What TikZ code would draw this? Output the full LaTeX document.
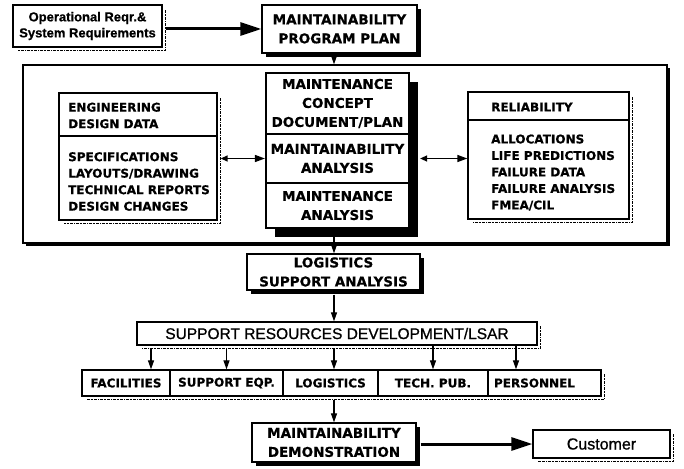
\documentclass[tikz,border=0pt]{standalone}
\usepackage{fontspec}
\setmainfont{DejaVu Sans}[BoldFeatures={FakeBold=0.6}]
\newfontfamily\libsans{Liberation Sans}[BoldFeatures={FakeBold=0.6}]
\newfontfamily\libmed{Liberation Sans}[FakeBold=0.8]
\usetikzlibrary{arrows.meta,shadows}
\begin{document}
\begin{tikzpicture}[x=1pt,y=-1pt,
  bx/.style={draw, line width=1.3pt, fill=white, inner sep=0pt, align=center,
    font=\bfseries\fontsize{13.5}{19}\selectfont},
  cbx/.style={draw, line width=2.2pt, fill=white, inner sep=0pt, align=center,
    minimum width=143pt, font=\bfseries\fontsize{13.5}{19}\selectfont},
  plain/.style={draw, line width=1.3pt, fill=white, inner sep=0pt},
  rowbox/.style={draw, line width=1.3pt, fill=white, inner sep=0pt, minimum height=26pt,
    font=\bfseries\fontsize{12}{14}\selectfont},
  solidshadow/.style={drop shadow={shadow xshift=#1, shadow yshift=-#1, fill=black, opacity=1}},
  rag/.style={line width=1.6pt, dash pattern=on 3pt off 1pt on 1.5pt off 1pt},
  arr/.style={line width=1.2pt, -{Triangle[length=9pt,width=6pt]}},
  bigarr/.style={line width=3pt, -{Triangle[length=21pt,width=13pt]}},
  darr/.style={line width=1.4pt, {Triangle[length=7pt,width=6pt]}-{Triangle[length=10pt,width=7pt]}},
  lst/.style={font=\bfseries\fontsize{12}{16.5}\selectfont, align=left, inner sep=0pt, anchor=west},
]
\useasboundingbox (0,0) rectangle (684,468);
\fill[white] (0,0) rectangle (684,468);
\coordinate (axis) at (334,0);

% top row
\node[plain, minimum width=149pt, minimum height=42pt, align=center,
  font=\libsans\bfseries\fontsize{13}{16}\selectfont] (op) at (87.5,26)
  {Operational Reqr.\&\\System Requirements};
\draw[rag] ([xshift=3pt,yshift=-6pt]op.north east) -- ([xshift=3pt,yshift=-3pt]op.south east)
  -- ([xshift=6pt,yshift=-3pt]op.south west);
\node[bx, solidshadow=4pt, minimum width=155pt, minimum height=48pt] (plan) at (339.5,29)
  {MAINTAINABILITY\\PROGRAM PLAN};
\draw[bigarr] ([xshift=3pt]op.east |- plan.west) -- (plan.west);

% big frame
\node[plain, solidshadow=3pt, minimum width=644pt, minimum height=178pt] (big) at (345,154) {};
\draw[arr] ([yshift=-4pt]plan.south -| axis) -- (big.north -| axis);

% engineering
\node[plain, minimum width=158pt, minimum height=43pt] (engh) at (138,114.5) {};
\node[plain, minimum width=158pt, minimum height=84pt] (engb) at (138,178) {};
\draw[rag] ([xshift=3pt,yshift=-6pt]engh.north east) -- ([xshift=3pt,yshift=-3pt]engb.south east)
  -- ([xshift=6pt,yshift=-3pt]engb.south west);
\node[lst] (enght) at (68,115.5) {ENGINEERING\\DESIGN DATA};
\node[lst] (engbt) at (68,181.5) {SPECIFICATIONS\\LAYOUTS/DRAWING\\TECHNICAL REPORTS\\DESIGN CHANGES};

% central stack
\fill (275,82) rectangle (418,237);
\node[cbx, minimum height=61pt] (c1) at (337.5,103.5) {MAINTENANCE\\CONCEPT\\DOCUMENT/PLAN};
\node[cbx, minimum height=49pt] (c2) at (337.5,158.5) {MAINTAINABILITY\\ANALYSIS};
\node[cbx, minimum height=45pt] (c3) at (337.5,205.5) {MAINTENANCE\\ANALYSIS};

% reliability
\node[plain, minimum width=161pt, minimum height=28pt] (relh) at (548.5,106) {};
\node[plain, minimum width=161pt, minimum height=99pt] (relb) at (548.5,169.5) {};
\draw[rag] ([xshift=3pt,yshift=-6pt]relh.north east) -- ([xshift=3pt,yshift=-3pt]relb.south east)
  -- ([xshift=6pt,yshift=-3pt]relb.south west);
\node[lst] (relht) at (491,107) {RELIABILITY};
\node[lst] (relbt) at (491,172.5) {ALLOCATIONS\\LIFE PREDICTIONS\\FAILURE DATA\\FAILURE ANALYSIS\\FMEA/CIL};

\draw[darr] ([xshift=3pt]c2.west -| engb.east) -- (c2.west);
\draw[darr] ([xshift=10pt]c2.east) -- (c2.east -| relb.west);

% logistics support analysis
\draw[line width=1.6pt] (c3.south -| axis) -- (big.south -| axis);
\node[bx, solidshadow=4pt, minimum width=173pt, minimum height=36pt] (lsa) at (333.5,272)
  {LOGISTICS\\SUPPORT ANALYSIS};
\draw[arr] ([yshift=-3pt]big.south -| axis) -- (lsa.north -| axis);

% support resources
\node[plain, minimum width=400pt, minimum height=23pt,
  font=\libmed\fontsize{15.5}{18}\selectfont] (sup) at (337,333.5)
  {SUPPORT RESOURCES DEVELOPMENT/LSAR};
\draw[rag] ([xshift=3pt,yshift=-5pt]sup.north east) -- ([xshift=3pt,yshift=-3pt]sup.south east)
  -- ([xshift=6pt,yshift=-3pt]sup.south west);
\draw[arr] ([yshift=-4pt]lsa.south -| axis) -- (sup.north -| axis);

% row of resources
\node[rowbox, minimum width=88pt] (fac) at (126,383) {FACILITIES};
\node[rowbox, minimum width=113pt] (seq) at (226.5,383) {SUPPORT EQP.};
\node[rowbox, minimum width=95pt] (log) at (330.5,383) {LOGISTICS};
\node[rowbox, minimum width=110pt] (tech) at (433,383) {TECH. PUB.};
\node[rowbox, minimum width=113pt, inner xsep=6pt, text width=101pt, align=left] (pers) at (544.5,383) {PERSONNEL};
\draw[rag] ([xshift=3pt,yshift=-5pt]pers.north east) -- ([xshift=3pt,yshift=-3pt]pers.south east)
  -- ([xshift=6pt,yshift=-3pt]fac.south west);
\draw[arr] ([yshift=-3pt]sup.south -| 151,0) -- (fac.north -| 151,0);
\draw[arr] ([yshift=-3pt]sup.south -| seq.north) -- (seq.north);
\draw[arr] ([yshift=-3pt]sup.south -| axis) -- (log.north -| axis);
\draw[arr] (sup.south -| tech.north) -- (tech.north);
\draw[arr] (sup.south -| 516,0) -- (pers.north -| 516,0);

% demonstration and customer
\node[bx, solidshadow=4pt, minimum width=164pt, minimum height=39pt] (demo) at (334,442.5)
  {MAINTAINABILITY\\DEMONSTRATION};
\draw[arr] ([yshift=-3pt]log.south -| axis) -- (demo.north -| axis);
\node[plain, minimum width=137pt, minimum height=28pt,
  font=\libmed\fontsize{16}{18}\selectfont] (cust) at (601.5,444) {Customer};
\draw[rag] ([xshift=3pt,yshift=-5pt]cust.north east) -- ([xshift=3pt,yshift=-3pt]cust.south east)
  -- ([xshift=6pt,yshift=-3pt]cust.south west);
\draw[bigarr] ([xshift=4pt]demo.east |- cust.west) -- (cust.west);
\end{tikzpicture}
\end{document}
